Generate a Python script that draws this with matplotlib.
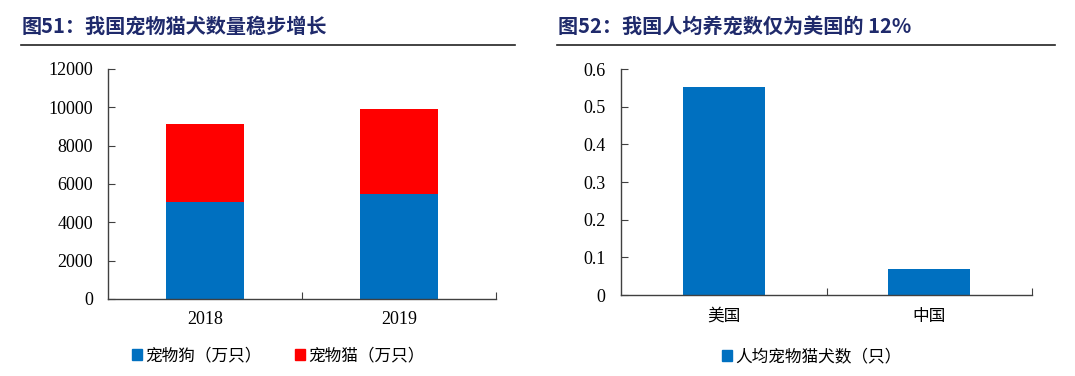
import matplotlib
matplotlib.use("Agg")
import matplotlib.pyplot as plt
from matplotlib.lines import Line2D
from matplotlib.patches import Patch

plt.rcParams['font.family'] = ['Noto Sans CJK SC', 'DejaVu Sans']

# 图51 数据
years = ['2018', '2019']
dogs = [5085, 5503]     # 宠物狗（万只）
cats = [4064, 4412]     # 宠物猫（万只）

# 图52 数据
countries = ['美国', '中国']
per_capita = [0.553, 0.069]   # 人均宠物猫犬数（只）

blue = '#0070C0'
red = '#FF0000'
navy = '#1F2A6B'
axc = '#404040'
num_font = 'Liberation Serif'

fig = plt.figure(figsize=(10.75, 3.76), dpi=100)


def style_axes(ax, n):
    for s in ['top', 'right']:
        ax.spines[s].set_visible(False)
    for s in ['left', 'bottom']:
        ax.spines[s].set_color(axc)
        ax.spines[s].set_linewidth(1.0)
    ax.set_xlim(-0.5, n - 0.5)
    # tick marks at category boundaries, labels at centres
    ax.set_xticks([i + 0.5 for i in range(n)])
    ax.set_xticklabels([])
    ax.tick_params(axis='x', which='major', direction='in', length=5, color=axc)
    ax.tick_params(axis='y', direction='in', length=5, color=axc, pad=11)
    ax.tick_params(axis='x', which='minor', length=0, pad=9)
    for t in ax.get_yticklabels():
        t.set_fontfamily(num_font)
        t.set_fontsize(13)


# ---- 左图 ----
ax1 = fig.add_axes([0.1005, 0.2048, 0.361, 0.6117])
x = range(len(years))
ax1.bar(x, dogs, width=0.4, color=blue)
ax1.bar(x, cats, width=0.4, bottom=dogs, color=red)
ax1.set_ylim(0, 12000)
ax1.set_yticks(range(0, 12001, 2000))
style_axes(ax1, len(years))
ax1.set_xticks(list(x), minor=True)
ax1.set_xticklabels(years, minor=True, fontfamily=num_font, fontsize=13)

# ---- 右图 ----
ax2 = fig.add_axes([0.5777, 0.2154, 0.3823, 0.601])
x2 = range(len(countries))
ax2.bar(x2, per_capita, width=0.4, color=blue)
ax2.set_ylim(0, 0.6)
ax2.set_yticks([0, 0.1, 0.2, 0.3, 0.4, 0.5, 0.6])
ax2.set_yticklabels(['0', '0.1', '0.2', '0.3', '0.4', '0.5', '0.6'])
style_axes(ax2, len(countries))
ax2.set_xticks(list(x2), minor=True)
ax2.set_xticklabels(countries, minor=True, fontsize=12)

# ---- 标题与横线 ----
fig.text(22 / 1075, 1 - 26 / 376, '图51：我国宠物猫犬数量稳步增长', fontsize=14.5,
         fontweight='bold', color=navy, va='center', ha='left')
fig.text(558 / 1075, 1 - 26 / 376, '图52：我国人均养宠数仅为美国的 12%', fontsize=14.5,
         fontweight='bold', color=navy, va='center', ha='left')
fig.add_artist(Line2D([21 / 1075, 515 / 1075], [1 - 45 / 376] * 2, color='#222222', lw=1.2))
fig.add_artist(Line2D([557 / 1075, 1055 / 1075], [1 - 45 / 376] * 2, color='#222222', lw=1.2))

# ---- 图例 ----
fig.legend([Patch(color=blue), Patch(color=red)], ['宠物狗（万只）', '宠物猫（万只）'],
           loc='center', bbox_to_anchor=(278 / 1075, 1 - 356 / 376), ncol=2,
           frameon=False, fontsize=12, handlelength=0.6, handleheight=0.6,
           handletextpad=0.2, columnspacing=2.0)
fig.legend([Patch(color=blue)], ['人均宠物猫犬数（只）'],
           loc='center', bbox_to_anchor=(812 / 1075, 1 - 357 / 376),
           frameon=False, fontsize=12, handlelength=0.6, handleheight=0.6,
           handletextpad=0.2)

fig.savefig('out.png', dpi=100)
